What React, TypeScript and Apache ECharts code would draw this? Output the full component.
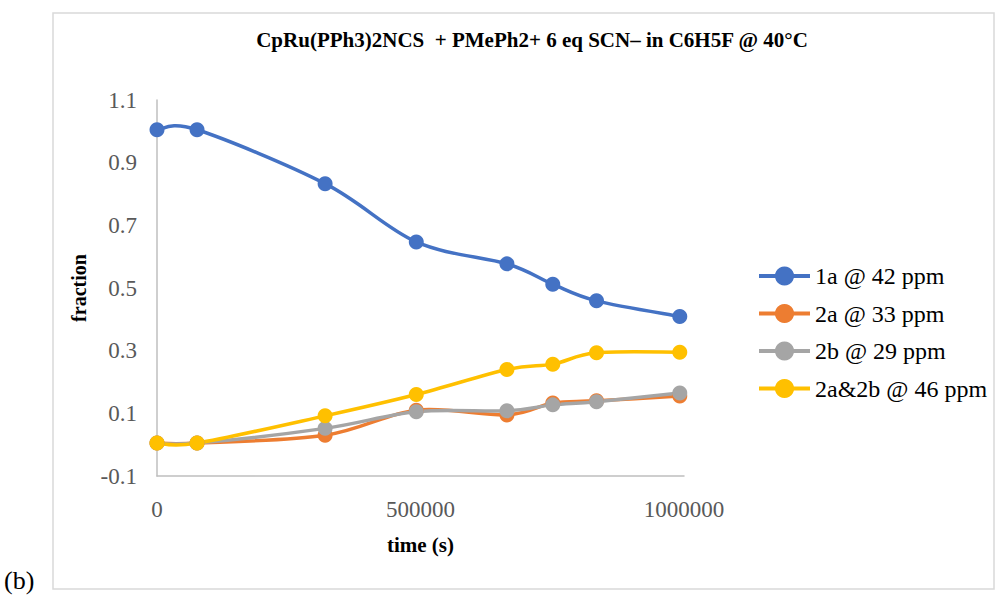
import React, { useEffect, useRef } from "react";
import * as echarts from "echarts";

const timeS = [0, 76000, 319000, 492000, 664000, 751000, 834000, 992000];
const s1a = [1.005, 1.005, 0.833, 0.647, 0.577, 0.512, 0.459, 0.409];
const s2a = [0.005, 0.005, 0.03, 0.11, 0.095, 0.133, 0.14, 0.155];
const s2b = [0.005, 0.005, 0.052, 0.105, 0.108, 0.127, 0.137, 0.165];
const s2a2b = [0.005, 0.005, 0.092, 0.16, 0.24, 0.257, 0.293, 0.295];
const seriesNames = ["1a @ 42 ppm", "2a @ 33 ppm", "2b @ 29 ppm", "2a&2b @ 46 ppm"];
const colors = ["#4472C4", "#ED7D31", "#A5A5A5", "#FFC000"];
const titleText = "CpRu(PPh3)2NCS  + PMePh2+ 6 eq SCN\u2013 in C6H5F @ 40\u00B0C";

const FONT = "'Liberation Serif', 'Times New Roman', serif";

export default function App() {
  const ref = useRef<HTMLDivElement>(null);
  useEffect(() => {
    if (!ref.current) return;
    const chart = echarts.init(ref.current, undefined, { renderer: "svg" });
    const allData = [s1a, s2a, s2b, s2a2b];

    const markerSeries = seriesNames.map((name, i) => ({
      name,
      type: "line",
      symbol: "circle",
      symbolSize: 15,
      color: colors[i],
      z: 3,
      lineStyle: { width: 0, opacity: 0, color: colors[i] },
      itemStyle: { color: colors[i] },
      data: timeS.map((t, j) => [t, allData[i][j]]),
    }));

    const curveSeries = seriesNames.map((name, i) => ({
      name,
      type: "custom",
      coordinateSystem: "cartesian2d",
      z: 2,
      silent: true,
      data: timeS.map((t, j) => [t, allData[i][j]]),
      renderItem: (params: any, api: any) => {
        if (params.dataIndex !== 0) return null;
        const pts = timeS.map((t, j) => api.coord([t, allData[i][j]]));
        const n = pts.length;
        let d = `M${pts[0][0]},${pts[0][1]}`;
        for (let k = 0; k < n - 1; k++) {
          const p0 = pts[k - 1] || pts[k];
          const p1 = pts[k];
          const p2 = pts[k + 1];
          const p3 = pts[k + 2] || pts[k + 1];
          const c1x = p1[0] + (p2[0] - p0[0]) / 6;
          const c1y = p1[1] + (p2[1] - p0[1]) / 6;
          const c2x = p2[0] - (p3[0] - p1[0]) / 6;
          const c2y = p2[1] - (p3[1] - p1[1]) / 6;
          d += ` C${c1x},${c1y} ${c2x},${c2y} ${p2[0]},${p2[1]}`;
        }
        return {
          type: "path",
          shape: { pathData: d },
          style: { fill: "none", stroke: colors[i], lineWidth: 3.5, lineJoin: "round", lineCap: "round" },
        };
      },
    }));

    chart.setOption({
      animation: false,
      textStyle: { fontFamily: FONT },
      grid: { left: 157, right: 311, top: 100, bottom: 124 },
      legend: {
        orient: "vertical",
        left: 752,
        top: 259,
        itemWidth: 51,
        itemHeight: 24,
        itemGap: 13.5,
        lineStyle: { width: 4, opacity: 1 },
        textStyle: { fontFamily: FONT, fontSize: 24, color: "#000" },
        data: seriesNames,
      },
      xAxis: {
        type: "value",
        min: 0,
        max: 1000000,
        interval: 500000,
        name: "time (s)",
        nameLocation: "middle",
        nameGap: 58,
        nameTextStyle: { fontFamily: FONT, fontSize: 21, fontWeight: "bold", color: "#000" },
        axisLine: { show: true, onZero: false, lineStyle: { color: "#BFBFBF", width: 1.5 } },
        axisTick: { show: false },
        splitLine: { show: false },
        axisLabel: {
          fontFamily: FONT,
          fontSize: 23,
          color: "#595959",
          margin: 22,
          formatter: (v: number) => String(v),
        },
      },
      yAxis: {
        type: "value",
        min: -0.1,
        max: 1.1,
        interval: 0.2,
        name: "fraction",
        nameLocation: "middle",
        nameGap: 68,
        nameTextStyle: { fontFamily: FONT, fontSize: 20, fontWeight: "bold", color: "#000" },
        axisLine: { show: true, onZero: false, lineStyle: { color: "#BFBFBF", width: 1.5 } },
        axisTick: { show: false },
        splitLine: { show: false },
        axisLabel: {
          fontFamily: FONT,
          fontSize: 23,
          color: "#595959",
          margin: 20,
          formatter: (v: number) => v.toFixed(1),
        },
      },
      series: [...markerSeries, ...curveSeries],
      graphic: [
        {
          type: "rect",
          shape: { x: 53, y: 13, width: 941, height: 576 },
          style: { fill: "none", stroke: "#D9D9D9", lineWidth: 1.5 },
          silent: true,
        },
        {
          type: "text",
          x: 532,
          y: 40,
          style: {
            text: titleText,
            fontFamily: FONT,
            fontSize: 21,
            fontWeight: "bold",
            fill: "#000",
            align: "center",
            verticalAlign: "middle",
          },
        },
        {
          type: "text",
          x: 4,
          y: 580,
          style: {
            text: "(b)",
            fontFamily: FONT,
            fontSize: 26,
            fill: "#000",
            align: "left",
            verticalAlign: "middle",
          },
        },
      ],
    });
    return () => chart.dispose();
  }, []);
  return (
    <div
      ref={ref}
      style={{ position: "fixed", left: 0, top: 0, width: 995, height: 600, background: "#fff" }}
    />
  );
}
